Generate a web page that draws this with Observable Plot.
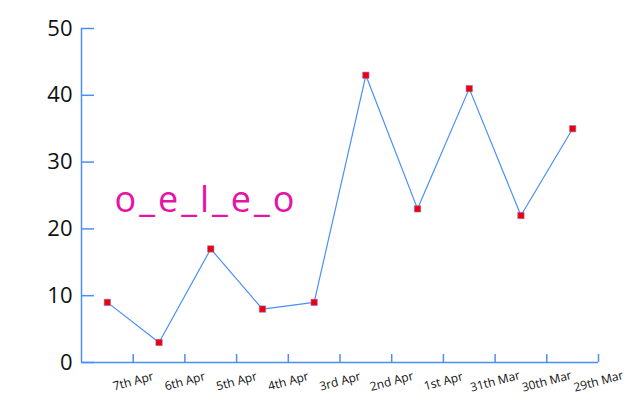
<!DOCTYPE html>
<html>
<head>
<meta charset="utf-8">
<script src="https://cdn.jsdelivr.net/npm/d3@7"></script>
<script src="https://cdn.jsdelivr.net/npm/@observablehq/plot@0.6"></script>
<style>
  html, body { margin: 0; padding: 0; background: #fff; }
  #chart { width: 640px; height: 418px; }
  .annot text { letter-spacing: 3px; }
</style>
</head>
<body>
<div id="chart"></div>
<script>
const dates = ["7th Apr", "6th Apr", "5th Apr", "4th Apr", "3rd Apr", "2nd Apr", "1st Apr", "31th Mar", "30th Mar", "29th Mar"];
const values = [9, 3, 17, 8, 9, 43, 23, 41, 22, 35];
const yTicks = [0, 10, 20, 30, 40, 50];
const title = "o_e_l_e_o";

const blue = "#4a8ff5";
const font = "'Open Sans', sans-serif";

const W = 640, H = 418, mL = 81, mR = 42, mT = 28, mB = 56;
const frameW = W - mL - mR, frameH = H - mT - mB;

const points = values.map((v, i) => ({i: i + 0.5, v, date: dates[i]}));
const xTicks = dates.map((d, i) => ({i: i + 1, label: d}));

const chart = Plot.plot({
  width: W,
  height: H,
  marginLeft: mL,
  marginRight: mR,
  marginTop: mT,
  marginBottom: mB,
  style: {fontFamily: font, background: "#fff"},
  x: {type: "linear", domain: [0, dates.length], axis: null},
  y: {domain: [0, 50], axis: null},
  marks: [
    // axis lines
    Plot.ruleY([0], {stroke: blue, strokeWidth: 1.5}),
    Plot.ruleX([0], {stroke: blue, strokeWidth: 1.5}),
    // y ticks (inward)
    Plot.tickY(yTicks, {y: d => d, stroke: blue, strokeWidth: 1.5, insetRight: frameW - 13}),
    // x ticks (inward)
    Plot.tickX(xTicks, {x: "i", stroke: blue, strokeWidth: 1.5, insetTop: frameH - 8}),
    // y tick labels
    Plot.text(yTicks, {x: 0, y: d => d, text: d => String(d), textAnchor: "end", dx: -9, fontSize: 22, fill: "#111"}),
    // x tick labels
    Plot.text(xTicks, {x: "i", y: 0, text: "label", rotate: -15, dy: 19, fontSize: 12, fill: "#111"}),
    // line and markers
    Plot.line(points, {x: "i", y: "v", stroke: blue, strokeWidth: 1.2}),
    Plot.dot(points, {x: "i", y: "v", symbol: "square", r: 3.6, fill: "#f00000", stroke: "#8a7bd8", strokeWidth: 0.6}),
    // annotation
    Plot.text([title], {frameAnchor: "top-left", text: d => d, textAnchor: "start", dx: 33, dy: 158, fontSize: 36, fill: "#e514a6", className: "annot"})
  ]
});
document.getElementById("chart").appendChild(chart);
</script>
</body>
</html>
